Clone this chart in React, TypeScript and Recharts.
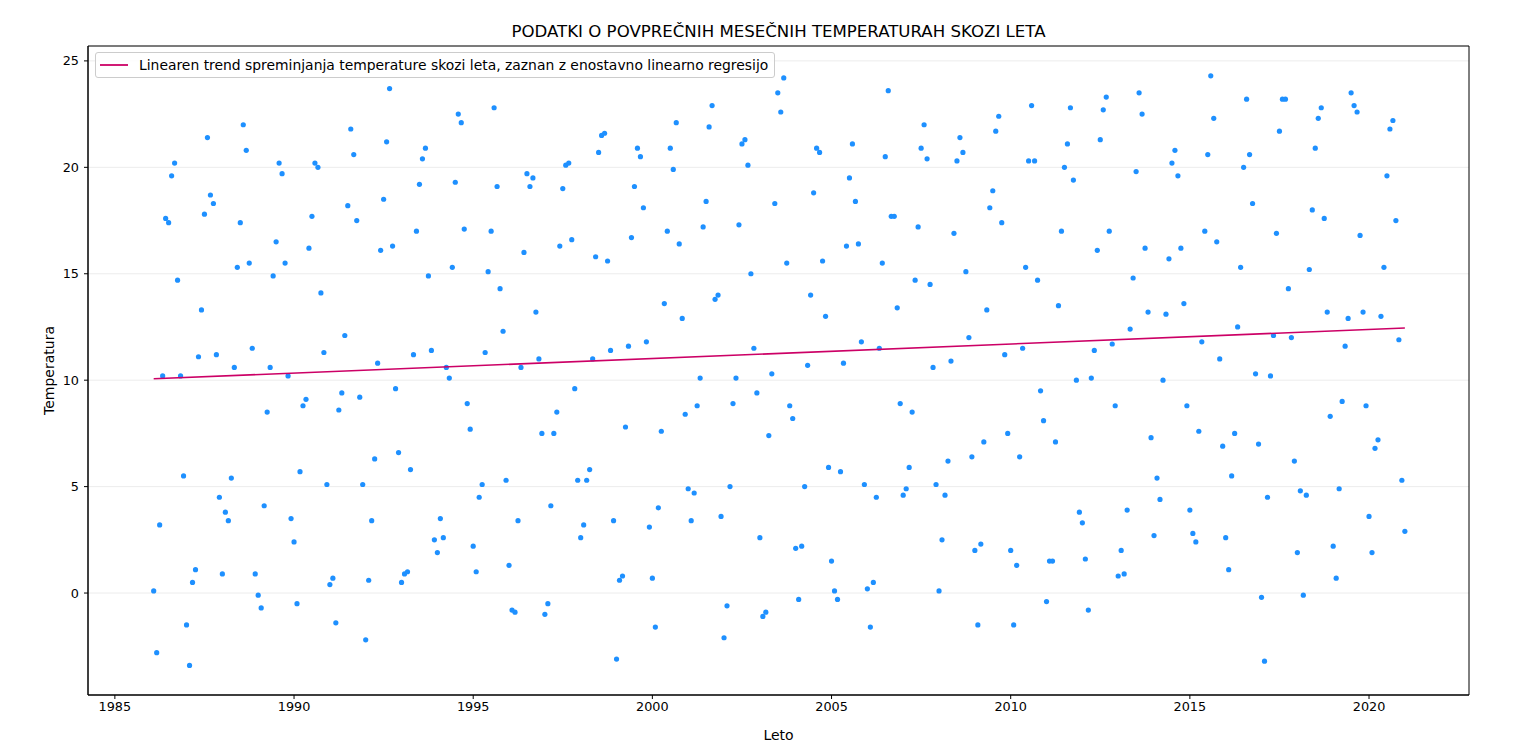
import { ScatterChart, Scatter, XAxis, YAxis, CartesianGrid, ReferenceArea } from 'recharts';

// mean monthly temperature, one row per year (Jan..Dec)
const firstYear = 1986;
const monthlyTemps: number[][] = [
  [0.1, -2.8, 3.2, 10.2, 17.6, 17.4, 19.6, 20.2, 14.7, 10.2, 5.5, -1.5],
  [-3.4, 0.5, 1.1, 11.1, 13.3, 17.8, 21.4, 18.7, 18.3, 11.2, 4.5, 0.9],
  [3.8, 3.4, 5.4, 10.6, 15.3, 17.4, 22.0, 20.8, 15.5, 11.5, 0.9, -0.1],
  [-0.7, 4.1, 8.5, 10.6, 14.9, 16.5, 20.2, 19.7, 15.5, 10.2, 3.5, 2.4],
  [-0.5, 5.7, 8.8, 9.1, 16.2, 17.7, 20.2, 20.0, 14.1, 11.3, 5.1, 0.4],
  [0.7, -1.4, 8.6, 9.4, 12.1, 18.2, 21.8, 20.6, 17.5, 9.2, 5.1, -2.2],
  [0.6, 3.4, 6.3, 10.8, 16.1, 18.5, 21.2, 23.7, 16.3, 9.6, 6.6, 0.5],
  [0.9, 1.0, 5.8, 11.2, 17.0, 19.2, 20.4, 20.9, 14.9, 11.4, 2.5, 1.9],
  [3.5, 2.6, 10.6, 10.1, 15.3, 19.3, 22.5, 22.1, 17.1, 8.9, 7.7, 2.2],
  [1.0, 4.5, 5.1, 11.3, 15.1, 17.0, 22.8, 19.1, 14.3, 12.3, 5.3, 1.3],
  [-0.8, -0.9, 3.4, 10.6, 16.0, 19.7, 19.1, 19.5, 13.2, 11.0, 7.5, -1.0],
  [-0.5, 4.1, 7.5, 8.5, 16.3, 19.0, 20.1, 20.2, 16.6, 9.6, 5.3, 2.6],
  [3.2, 5.3, 5.8, 11.0, 15.8, 20.7, 21.5, 21.6, 15.6, 11.4, 3.4, -3.1],
  [0.6, 0.8, 7.8, 11.6, 16.7, 19.1, 20.9, 20.5, 18.1, 11.8, 3.1, 0.7],
  [-1.6, 4.0, 7.6, 13.6, 17.0, 20.9, 19.9, 22.1, 16.4, 12.9, 8.4, 4.9],
  [3.4, 4.7, 8.8, 10.1, 17.2, 18.4, 21.9, 22.9, 13.8, 14.0, 3.6, -2.1],
  [-0.6, 5.0, 8.9, 10.1, 17.3, 21.1, 21.3, 20.1, 15.0, 11.5, 9.4, 2.6],
  [-1.1, -0.9, 7.4, 10.3, 18.3, 23.5, 22.6, 24.2, 15.5, 8.8, 8.2, 2.1],
  [-0.3, 2.2, 5.0, 10.7, 14.0, 18.8, 20.9, 20.7, 15.6, 13.0, 5.9, 1.5],
  [0.1, -0.3, 5.7, 10.8, 16.3, 19.5, 21.1, 18.4, 16.4, 11.8, 5.1, 0.2],
  [-1.6, 0.5, 4.5, 11.5, 15.5, 20.5, 23.6, 17.7, 17.7, 13.4, 8.9, 4.6],
  [4.9, 5.9, 8.5, 14.7, 17.2, 20.9, 22.0, 20.4, 14.5, 10.6, 5.1, 0.1],
  [2.5, 4.6, 6.2, 10.9, 16.9, 20.3, 21.4, 20.7, 15.1, 12.0, 6.4, 2.0],
  [-1.5, 2.3, 7.1, 13.3, 18.1, 18.9, 21.7, 22.4, 17.4, 11.2, 7.5, 2.0],
  [-1.5, 1.3, 6.4, 11.5, 15.3, 20.3, 22.9, 20.3, 14.7, 9.5, 8.1, -0.4],
  [1.5, 1.5, 7.1, 13.5, 17.0, 20.0, 21.1, 22.8, 19.4, 10.0, 3.8, 3.3],
  [1.6, -0.8, 10.1, 11.4, 16.1, 21.3, 22.7, 23.3, 17.0, 11.7, 8.8, 0.8],
  [2.0, 0.9, 3.9, 12.4, 14.8, 19.8, 23.5, 22.5, 16.2, 13.2, 7.3, 2.7],
  [5.4, 4.4, 10.0, 13.1, 15.7, 20.2, 20.8, 19.6, 16.2, 13.6, 8.8, 3.9],
  [2.8, 2.4, 7.6, 11.8, 17.0, 20.6, 24.3, 22.3, 16.5, 11.0, 6.9, 2.6],
  [1.1, 5.5, 7.5, 12.5, 15.3, 20.0, 23.2, 20.6, 18.3, 10.3, 7.0, -0.2],
  [-3.2, 4.5, 10.2, 12.1, 16.9, 21.7, 23.2, 23.2, 14.3, 12.0, 6.2, 1.9],
  [4.8, -0.1, 4.6, 15.2, 18.0, 20.9, 22.3, 22.8, 17.6, 13.2, 8.3, 2.2],
  [0.7, 4.9, 9.0, 11.6, 12.9, 23.5, 22.9, 22.6, 16.8, 13.2, 8.8, 3.6],
  [1.9, 6.8, 7.2, 13.0, 15.3, 19.6, 21.8, 22.2, 17.5, 11.9, 5.3, 2.9],
];

const xTicks = [1985, 1990, 1995, 2000, 2005, 2010, 2015, 2020];
const yTicks = [0, 5, 10, 15, 20, 25];
const xDomain: [number, number] = [1984.25, 2022.79];
const yDomain: [number, number] = [-4.79, 25.7];

const title = 'PODATKI O POVPREČNIH MESEČNIH TEMPERATURAH SKOZI LETA';
const legendText = 'Linearen trend spreminjanja temperature skozi leta, zaznan z enostavno linearno regresijo';

const points = monthlyTemps.flatMap((row, yi) =>
  row.map((t, m) => ({ x: firstYear + yi + (m + 1) / 12, y: t }))
);

// simple least-squares fit, like the original
const n = points.length;
const mx = points.reduce((s, p) => s + p.x, 0) / n;
const my = points.reduce((s, p) => s + p.y, 0) / n;
const slope =
  points.reduce((s, p) => s + (p.x - mx) * (p.y - my), 0) /
  points.reduce((s, p) => s + (p.x - mx) ** 2, 0);
const trend = [points[0], points[n - 1]].map((p) => ({ x: p.x, y: my + slope * (p.x - mx) }));

const FONT = '"DejaVu Sans", sans-serif';
const TREND_COLOR = '#CC0066';
const DOT_COLOR = '#1E90FF';

const Dot = (props: any) => <circle cx={props.cx} cy={props.cy} r={2.6} fill={DOT_COLOR} />;

const App = () => {
  return (
    <div style={{ position: 'relative', width: 1520, height: 738, fontFamily: FONT }}>
      <div
        style={{
          position: 'absolute',
          left: 80,
          width: 1381,
          top: 13,
          textAlign: 'center',
          fontSize: 16.6,
          lineHeight: '22px',
          color: '#000',
        }}
      >
        {title}
      </div>
      <ScatterChart width={1520} height={738} margin={{ top: 38, right: 59, bottom: 0, left: 0 }}>
        <CartesianGrid vertical={false} stroke="#ececec" />
        <XAxis
          type="number"
          dataKey="x"
          domain={xDomain}
          ticks={xTicks}
          allowDataOverflow
          height={51}
          tickSize={4}
          tickMargin={3}
          stroke="#000"
          tick={{ fill: '#000', fontSize: 12.8, fontFamily: FONT }}
          label={{ value: 'Leto', position: 'insideBottom', offset: 6, fill: '#000', fontSize: 14, fontFamily: FONT }}
        />
        <YAxis
          type="number"
          dataKey="y"
          domain={yDomain}
          ticks={yTicks}
          allowDataOverflow
          width={80}
          tickSize={4}
          tickMargin={5}
          stroke="#000"
          tick={{ fill: '#000', fontSize: 12.8, fontFamily: FONT }}
          label={{ value: 'Temperatura', angle: -90, position: 'center', dx: 1, fill: '#000', fontSize: 14, fontFamily: FONT }}
        />
        <ReferenceArea
          x1={xDomain[0]}
          x2={xDomain[1]}
          y1={yDomain[0]}
          y2={yDomain[1]}
          stroke="#000"
          strokeOpacity={1}
          fill="none"
          ifOverflow="visible"
        />
        <Scatter data={points} shape={Dot} isAnimationActive={false} />
        <Scatter
          data={trend}
          line={{ stroke: TREND_COLOR, strokeWidth: 1.6 }}
          shape={() => <g />}
          isAnimationActive={false}
        />
      </ScatterChart>
      <div
        style={{
          position: 'absolute',
          left: 87,
          top: 44,
          width: 680,
          height: 26,
          boxSizing: 'border-box',
          border: '1px solid #cccccc',
          borderRadius: 3,
          background: 'rgba(255,255,255,0.8)',
          display: 'flex',
          alignItems: 'center',
          fontSize: 13.9,
          color: '#000',
          whiteSpace: 'nowrap',
        }}
      >
        <svg width={28} height={4} style={{ flexShrink: 0, marginLeft: 4, marginRight: 11 }}>
          <line x1={0} y1={2} x2={28} y2={2} stroke={TREND_COLOR} strokeWidth={1.8} />
        </svg>
        <span>{legendText}</span>
      </div>
    </div>
  );
};

export default App;
